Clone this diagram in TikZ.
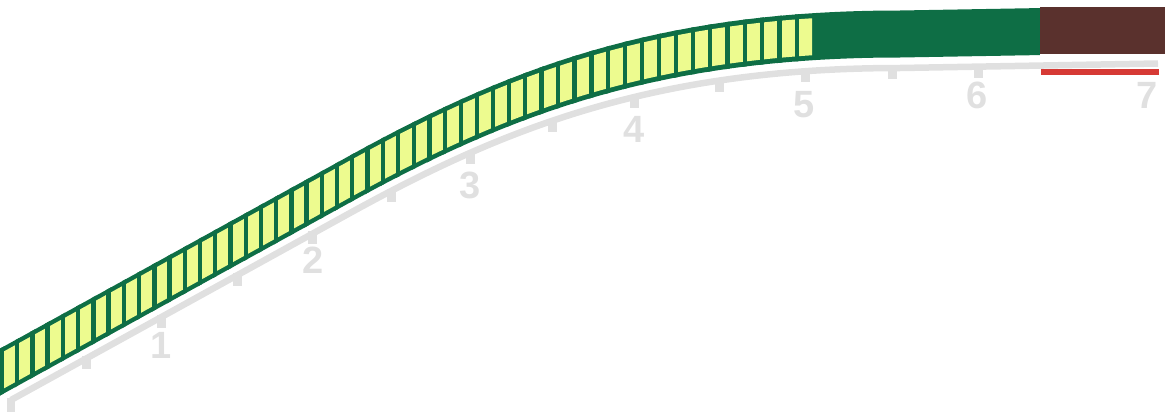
\documentclass[tikz,border=0pt]{standalone}
\usepackage{fontspec}
\setmainfont{Liberation Sans}
\usetikzlibrary{intersections,decorations.markings}
\definecolor{bandgreen}{HTML}{0E6E45}
\definecolor{cellyellow}{HTML}{EDFB8F}
\definecolor{axisgray}{HTML}{E0E0E0}
\definecolor{soilbrown}{HTML}{5A312D}
\definecolor{markred}{HTML}{D63A35}
\begin{document}
\begin{tikzpicture}[x=1pt,y=-1pt,
  axisline/.style={draw=axisgray, line width=6.5pt},
  tickmark/.style={fill=axisgray},
  ticklab/.style={text=axisgray, font=\fontsize{38}{40}\selectfont\bfseries, inner sep=0pt, anchor=base},
  divider/.style={fill=bandgreen},
]
\useasboundingbox (0,0) rectangle (1166,418);

% axis
\draw[axisline, name path=axis] (11,400) -- (350,213) .. controls (500,130.5) and (650,68) .. (900,68) -- (1158,63.5);
\fill[tickmark] (7,398) rectangle (15,412);
\foreach \tx in {87,162,238,313,391,470,552,635,719,805,892,978} {
  \path[name path=vline] (\tx,0) -- (\tx,418);
  \fill[tickmark, name intersections={of=axis and vline, by=tk}] (tk) ++(-4.5,-2) rectangle ++(9,13);
}

% band
\begin{scope}
\clip (-5,398.3) -- (350,202.5) .. controls (500,120) and (650,57.5) .. (900,57.5) -- (1040,55.06) -- (1040,8.06) -- (900,10.5) .. controls (650,10.5) and (500,73) .. (350,155.5) -- (-5,351.3) -- cycle;
\fill[bandgreen] (-10,0) rectangle (1040,418);
\begin{scope}
\clip (4,0) rectangle (812,418);
\fill[cellyellow] (-5,393.3) -- (350,197.5) .. controls (500,115) and (650,52.5) .. (900,52.5) -- (1040,50.06) -- (1040,13.06) -- (900,15.5) .. controls (650,15.5) and (500,78) .. (350,160.5) -- (-5,356.3) -- cycle;
\end{scope}
\path[decorate, decoration={markings, mark=between positions 103.4pt and 1 step 17.4pt with {\pgftransformresetnontranslations \fill[divider] (-2.2pt,-5pt) rectangle (2.2pt,55pt);}}] (900,57.5) .. controls (650,57.5) and (500,120) .. (350,202.5) -- (-5,398.3);
\end{scope}

% soil block and red mark
\fill[soilbrown] (1040,7) rectangle (1165,54);
\draw[markred, line width=6pt] (1041,72) -- (1159,72);

% labels
\node[ticklab] (l1) at (161,358) {1};
\node[ticklab] (l2) at (313,273) {2};
\node[ticklab] (l3) at (470,198) {3};
\node[ticklab] (l4) at (634,142) {4};
\node[ticklab] (l5) at (804,117) {5};
\node[ticklab] (l6) at (977,108) {6};
\node[ticklab] (l7) at (1147,108) {7};
\end{tikzpicture}
\end{document}
